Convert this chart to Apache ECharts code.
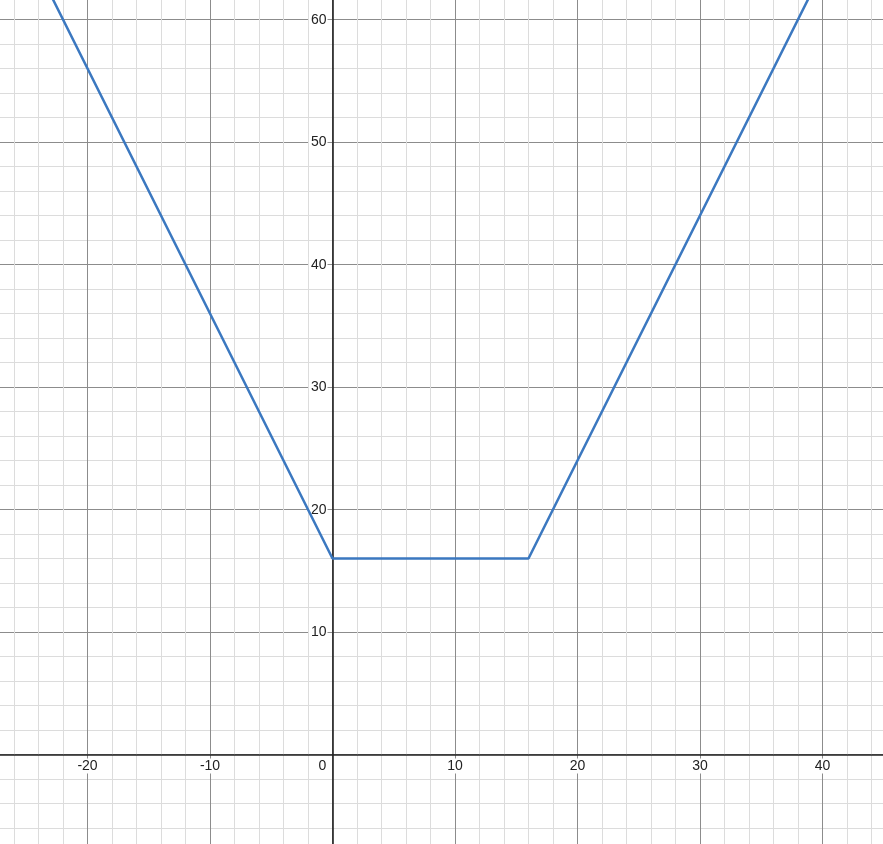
<!DOCTYPE html>
<html>
<head>
<meta charset="utf-8">
<script src="https://cdn.jsdelivr.net/npm/echarts@6/dist/echarts.min.js"></script>
<style>
html,body{margin:0;padding:0;background:#fff;width:883px;height:844px;overflow:hidden;position:relative;}
#c{position:absolute;left:-35.5px;top:-103.5px;width:980px;height:980px;}
</style>
</head>
<body>
<div id="c"></div>
<script>
// Vertices of the piecewise-linear curve
const xValues = [-30, 0, 16, 50];
const yValues = [76, 16, 16, 84];
// Axis ranges / ticks
const xMin = -30, xMax = 50, yMin = -10, yMax = 70, tickStep = 10;

const chart = echarts.init(document.getElementById('c'));
const fontFamily = 'Arial, "Liberation Sans", sans-serif';
chart.setOption({
  animation: false,
  backgroundColor: '#ffffff',
  grid: { left: 0, right: 0, top: 0, bottom: 0, containLabel: false, outerBoundsMode: 'none' },
  xAxis: {
    type: 'value', min: xMin, max: xMax, interval: tickStep,
    position: 'bottom', offset: -122.5,
    axisLine: { show: true, onZero: false, lineStyle: { color: '#222', width: 1.6 } },
    axisTick: { show: false },
    minorTick: { show: false, splitNumber: 5 },
    splitLine: { show: true, lineStyle: { color: '#8c8c8c', width: 1 } },
    minorSplitLine: { show: true, lineStyle: { color: '#dcdcdc', width: 1 } },
    axisLabel: {
      margin: 4, fontSize: 14, color: '#222', fontFamily: fontFamily,
      formatter: v => v === 0 ? '{z|0}' : '{a|' + v + '}',
      rich: {
        a: { fontSize: 14, color: '#222', fontFamily: fontFamily, backgroundColor: '#fff', padding: [1, 2, 0, 2] },
        z: { fontSize: 14, color: '#222', fontFamily: fontFamily, padding: [1, 20, 0, 0] }
      }
    },
    z: 3
  },
  yAxis: {
    type: 'value', min: yMin, max: yMax, interval: tickStep,
    position: 'left', offset: -367.5,
    axisLine: { show: true, onZero: false, lineStyle: { color: '#222', width: 1.6 } },
    axisTick: { show: false },
    minorTick: { show: false, splitNumber: 5 },
    splitLine: { show: true, lineStyle: { color: '#8c8c8c', width: 1 } },
    minorSplitLine: { show: true, lineStyle: { color: '#dcdcdc', width: 1 } },
    axisLabel: {
      margin: 5, fontSize: 14, color: '#222', fontFamily: fontFamily,
      formatter: v => v === 0 ? '' : '{a|' + v + '}',
      rich: {
        a: { fontSize: 14, color: '#222', fontFamily: fontFamily, backgroundColor: '#fff', padding: [1, 1, 0, 2] }
      }
    },
    z: 3
  },
  series: [{
    type: 'line',
    data: xValues.map((x, i) => [x, yValues[i]]),
    showSymbol: false,
    symbol: 'none',
    clip: true,
    lineStyle: { color: '#3b78c0', width: 2.5 },
    z: 5
  }]
});
</script>
</body>
</html>
